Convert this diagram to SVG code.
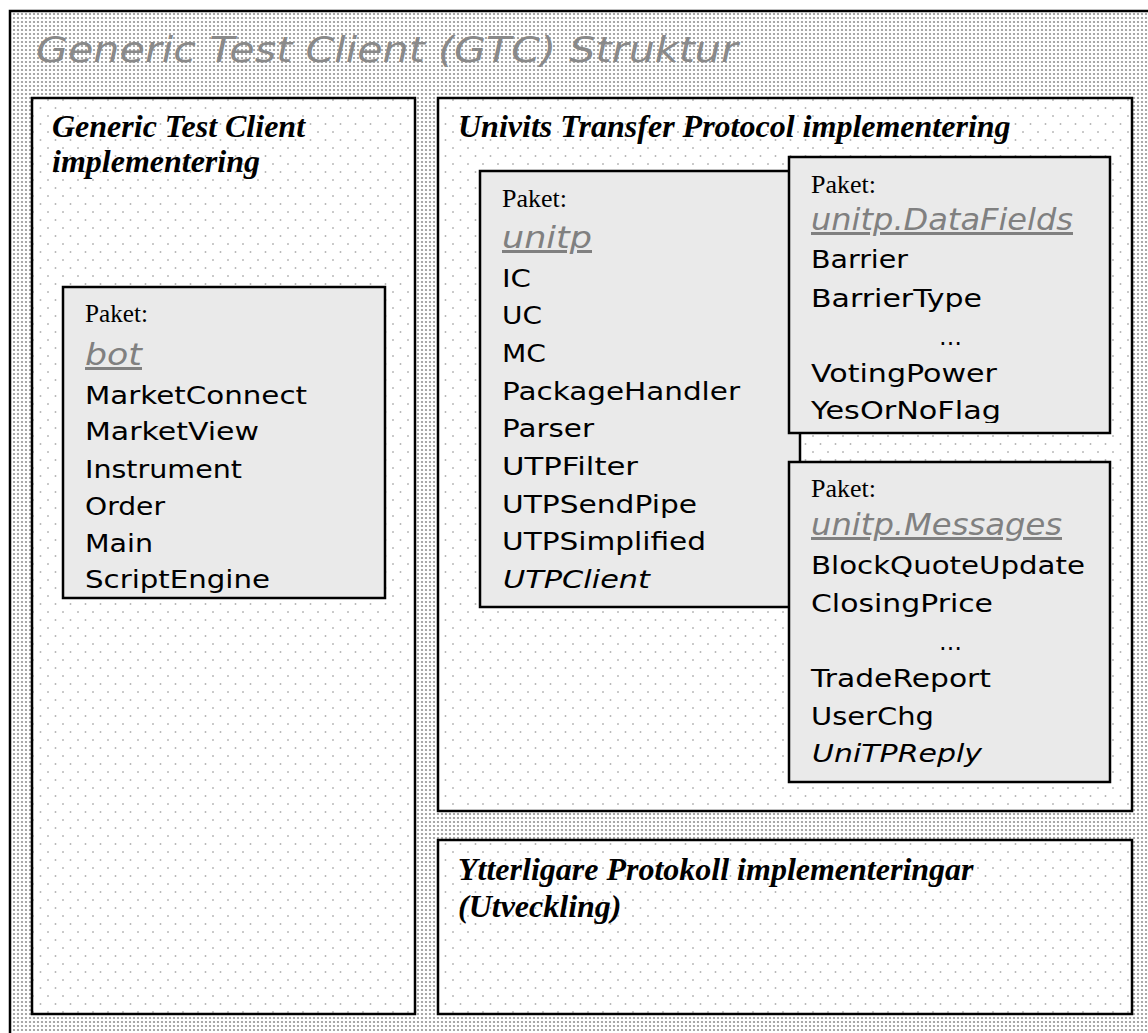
<svg xmlns="http://www.w3.org/2000/svg" width="1148" height="1033" viewBox="0 0 1148 1033">
  <style>
    .frame { stroke: #000; stroke-width: 2.5; }
    .pkg { fill: #eaeaea; stroke: #000; stroke-width: 2.5; }
    .title { font-family: "DejaVu Sans", Verdana, sans-serif; font-style: italic; font-size: 35px; fill: #8a8a8a; }
    .head { font-family: "Liberation Serif", "Times New Roman", serif; font-style: italic; font-weight: bold; font-size: 32px; fill: #000; }
    .paket { font-family: "Liberation Serif", "Times New Roman", serif; font-size: 25px; fill: #000; }
    .pname { font-family: "DejaVu Sans", Verdana, sans-serif; font-style: italic; font-size: 30px; fill: #808080; text-decoration: underline; }
    .cls { font-family: "DejaVu Sans", Verdana, sans-serif; font-size: 25px; fill: #000; }
    .it { font-style: italic; }
  </style>
  <defs>
    <pattern id="dense" width="4" height="4" patternUnits="userSpaceOnUse">
      <rect width="4" height="4" fill="#fff"/>
      <circle cx="2" cy="2" r="1.1" fill="#949494"/>
    </pattern>
    <pattern id="sparse" width="15" height="16" patternUnits="userSpaceOnUse">
      <rect width="15" height="16" fill="#fff"/>
      <circle cx="3" cy="4" r="0.95" fill="#b4b4b4"/>
      <circle cx="10.5" cy="12" r="0.95" fill="#b4b4b4"/>
    </pattern>
    <clipPath id="clipBot"><rect x="63" y="287" width="322" height="308"/></clipPath>
    <clipPath id="clipDF"><rect x="789" y="157" width="321" height="266"/></clipPath>
  </defs>

  <g id="frame">
    <rect x="10" y="11" width="1160" height="1050" fill="url(#dense)" class="frame"/>
  </g>

  <g id="title">
    <text class="title" x="36" y="62" textLength="702" lengthAdjust="spacingAndGlyphs">Generic Test Client (GTC) Struktur</text>
  </g>

  <g id="box-gtc">
    <rect x="32" y="98" width="383" height="916" fill="url(#sparse)" class="frame"/>
    <text class="head" x="52" y="137">Generic Test Client</text>
    <text class="head" x="52" y="172">implementering</text>
  </g>

  <g id="box-utp">
    <rect x="438" y="98" width="694" height="713" fill="url(#sparse)" class="frame"/>
    <text class="head" x="458" y="137">Univits Transfer Protocol implementering</text>
  </g>

  <g id="box-more">
    <rect x="438" y="840" width="694" height="174" fill="url(#sparse)" class="frame"/>
    <text class="head" x="458" y="880">Ytterligare Protokoll implementeringar</text>
    <text class="head" x="458" y="917">(Utveckling)</text>
  </g>

  <g id="pkg-bot">
    <rect x="63" y="287" width="322" height="311" class="pkg"/>
    <g clip-path="url(#clipBot)">
      <text class="paket" x="85" y="322" textLength="63" lengthAdjust="spacingAndGlyphs">Paket:</text>
      <text class="pname" x="85" y="365" textLength="57" lengthAdjust="spacingAndGlyphs">bot</text>
      <text class="cls" x="85" y="404" textLength="222" lengthAdjust="spacingAndGlyphs">MarketConnect</text>
      <text class="cls" x="85" y="440" textLength="174" lengthAdjust="spacingAndGlyphs">MarketView</text>
      <text class="cls" x="85" y="478" textLength="157" lengthAdjust="spacingAndGlyphs">Instrument</text>
      <text class="cls" x="85" y="515" textLength="80" lengthAdjust="spacingAndGlyphs">Order</text>
      <text class="cls" x="85" y="552" textLength="68" lengthAdjust="spacingAndGlyphs">Main</text>
      <text class="cls" x="85" y="588" textLength="185" lengthAdjust="spacingAndGlyphs">ScriptEngine</text>
    </g>
  </g>

  <g id="pkg-unitp">
    <rect x="480" y="171" width="320" height="436" class="pkg"/>
    <text class="paket" x="502" y="207" textLength="65" lengthAdjust="spacingAndGlyphs">Paket:</text>
    <text class="pname" x="502" y="248" textLength="90" lengthAdjust="spacingAndGlyphs">unitp</text>
    <text class="cls" x="502" y="287" textLength="29" lengthAdjust="spacingAndGlyphs">IC</text>
    <text class="cls" x="502" y="324" textLength="40" lengthAdjust="spacingAndGlyphs">UC</text>
    <text class="cls" x="502" y="362" textLength="44" lengthAdjust="spacingAndGlyphs">MC</text>
    <text class="cls" x="502" y="400" textLength="238" lengthAdjust="spacingAndGlyphs">PackageHandler</text>
    <text class="cls" x="502" y="437" textLength="92" lengthAdjust="spacingAndGlyphs">Parser</text>
    <text class="cls" x="502" y="475" textLength="136" lengthAdjust="spacingAndGlyphs">UTPFilter</text>
    <text class="cls" x="502" y="513" textLength="195" lengthAdjust="spacingAndGlyphs">UTPSendPipe</text>
    <text class="cls" x="502" y="550" textLength="204" lengthAdjust="spacingAndGlyphs">UTPSimplified</text>
    <text class="cls it" x="503" y="588" textLength="147" lengthAdjust="spacingAndGlyphs">UTPClient</text>
  </g>

  <g id="pkg-datafields">
    <rect x="789" y="157" width="321" height="276" class="pkg"/>
    <g clip-path="url(#clipDF)">
      <text class="paket" x="811" y="193" textLength="65" lengthAdjust="spacingAndGlyphs">Paket:</text>
      <text class="pname" x="811" y="230" textLength="262" lengthAdjust="spacingAndGlyphs">unitp.DataFields</text>
      <text class="cls" x="811" y="268" textLength="97" lengthAdjust="spacingAndGlyphs">Barrier</text>
      <text class="cls" x="811" y="307" textLength="171" lengthAdjust="spacingAndGlyphs">BarrierType</text>
      <text class="cls" x="939" y="345" textLength="23" lengthAdjust="spacingAndGlyphs">…</text>
      <text class="cls" x="811" y="382" textLength="186" lengthAdjust="spacingAndGlyphs">VotingPower</text>
      <text class="cls" x="811" y="419" textLength="190" lengthAdjust="spacingAndGlyphs">YesOrNoFlag</text>
    </g>
  </g>

  <g id="pkg-messages">
    <rect x="789" y="462" width="321" height="320" class="pkg"/>
    <text class="paket" x="811" y="497" textLength="65" lengthAdjust="spacingAndGlyphs">Paket:</text>
    <text class="pname" x="811" y="535" textLength="251" lengthAdjust="spacingAndGlyphs">unitp.Messages</text>
    <text class="cls" x="811" y="574" textLength="274" lengthAdjust="spacingAndGlyphs">BlockQuoteUpdate</text>
    <text class="cls" x="811" y="612" textLength="182" lengthAdjust="spacingAndGlyphs">ClosingPrice</text>
    <text class="cls" x="939" y="650" textLength="23" lengthAdjust="spacingAndGlyphs">…</text>
    <text class="cls" x="811" y="687" textLength="180" lengthAdjust="spacingAndGlyphs">TradeReport</text>
    <text class="cls" x="811" y="725" textLength="123" lengthAdjust="spacingAndGlyphs">UserChg</text>
    <text class="cls it" x="812" y="762" textLength="170" lengthAdjust="spacingAndGlyphs">UniTPReply</text>
  </g>

  <g id="connectors"/>
</svg>
